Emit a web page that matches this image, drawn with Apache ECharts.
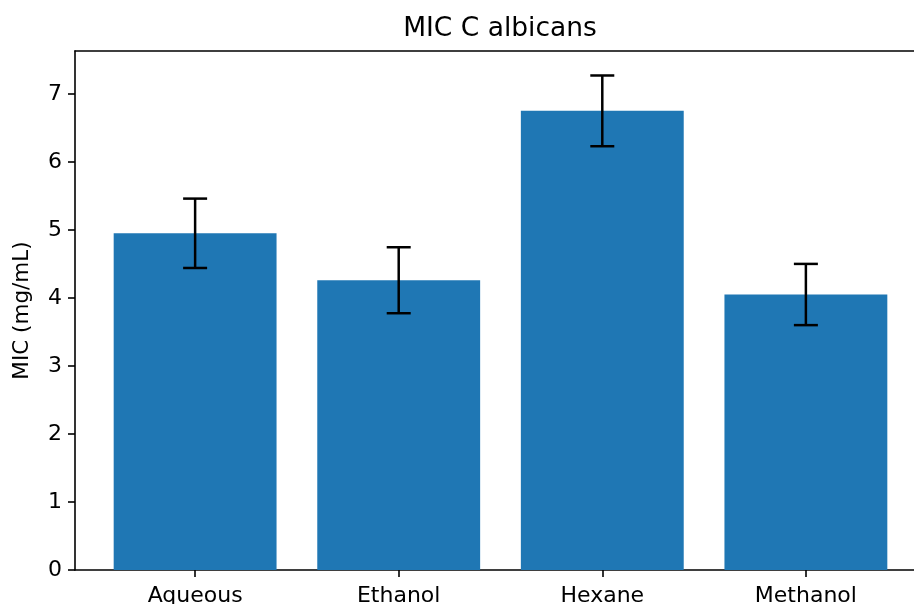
<!DOCTYPE html>
<html><head><meta charset="utf-8">
<script src="https://cdn.jsdelivr.net/npm/echarts@6/dist/echarts.min.js"></script>
<style>html,body{margin:0;padding:0;background:#fff}#c{width:914px;height:604px}</style>
</head><body><div id="c"></div>
<script>
const categories = ['Aqueous', 'Ethanol', 'Hexane', 'Methanol'];
const values = [4.95, 4.26, 6.75, 4.05];
const errors = [0.51, 0.485, 0.52, 0.45];
const yTicks = [0, 1, 2, 3, 4, 5, 6, 7];

const FONT = 'DejaVu Sans';
const chart = echarts.init(document.getElementById('c'), null, {renderer: 'canvas'});
const barData = values.map((v, i) => [i, v]);
const errData = values.map((v, i) => [i, v - errors[i], v + errors[i]]);

chart.setOption({
  animation: false,
  backgroundColor: '#fff',
  title: {
    text: 'MIC C albicans', left: 500, top: 16, textAlign: 'center', padding: 0,
    textStyle: {fontFamily: FONT, fontSize: 26.5, fontWeight: 'normal', color: '#000'}
  },
  grid: {left: 75, top: 51, width: 851, height: 519, containLabel: false, outerBoundsMode: 'none'},
  xAxis: [{
    type: 'value', min: -0.59, max: 3.59, position: 'bottom',
    splitLine: {show: false},
    axisLine: {show: true, onZero: false, lineStyle: {color: '#000', width: 1.6}},
    axisTick: {show: true, length: 7, lineStyle: {color: '#000', width: 1.6}, customValues: [0, 1, 2, 3]},
    axisLabel: {show: true, customValues: [0, 1, 2, 3], margin: 15, color: '#000',
      fontFamily: FONT, fontSize: 22, formatter: v => categories[Math.round(v)]}
  }, {
    type: 'value', min: -0.59, max: 3.59, position: 'top',
    splitLine: {show: false},
    axisLine: {show: true, onZero: false, lineStyle: {color: '#000', width: 1.6}},
    axisTick: {show: false}, axisLabel: {show: false}
  }],
  yAxis: {
    type: 'value', min: 0, max: 7.63,
    name: 'MIC (mg/mL)', nameLocation: 'middle', nameGap: 42, nameRotate: 90,
    nameTextStyle: {fontFamily: FONT, fontSize: 21.5, color: '#000'},
    splitLine: {show: false},
    axisLine: {show: true, onZero: false, lineStyle: {color: '#000', width: 1.6}},
    axisTick: {show: true, length: 7, lineStyle: {color: '#000', width: 1.6}, customValues: yTicks},
    axisLabel: {show: true, customValues: yTicks, margin: 13, color: '#000', fontFamily: FONT, fontSize: 22}
  },
  series: [{
    type: 'custom', xAxisIndex: 0, data: barData, z: 2,
    renderItem: (params, api) => {
      const x = api.value(0), y = api.value(1);
      const p0 = api.coord([x - 0.4, y]);
      const p1 = api.coord([x + 0.4, 0]);
      return {type: 'rect', shape: {x: p0[0], y: p0[1], width: p1[0] - p0[0], height: p1[1] - p0[1]},
        style: {fill: '#1f77b4'}};
    }
  }, {
    type: 'custom', xAxisIndex: 0, data: errData, z: 3,
    renderItem: (params, api) => {
      const x = api.value(0);
      const lo = api.coord([x, api.value(1)]);
      const hi = api.coord([x, api.value(2)]);
      const cap = 12;
      const st = {stroke: '#000', lineWidth: 2.5};
      return {type: 'group', children: [
        {type: 'line', shape: {x1: lo[0], y1: lo[1], x2: hi[0], y2: hi[1]}, style: st},
        {type: 'line', shape: {x1: lo[0] - cap, y1: lo[1], x2: lo[0] + cap, y2: lo[1]}, style: st},
        {type: 'line', shape: {x1: hi[0] - cap, y1: hi[1], x2: hi[0] + cap, y2: hi[1]}, style: st}
      ]};
    }
  }]
});
</script></body></html>
